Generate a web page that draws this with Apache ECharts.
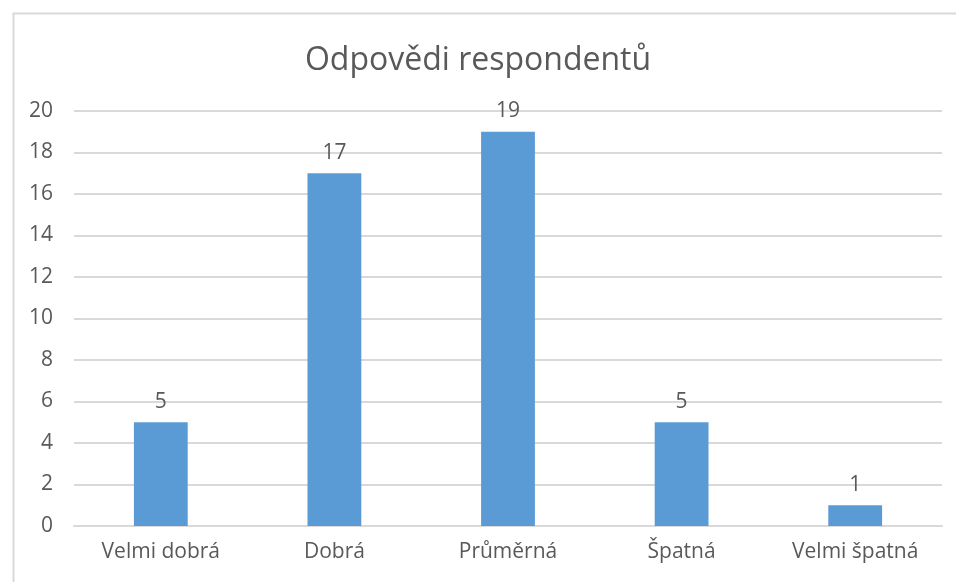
<!DOCTYPE html>
<html>
<head>
<meta charset="utf-8">
<script src="https://cdn.jsdelivr.net/npm/echarts@6/dist/echarts.min.js"></script>
<style>
  html, body { margin: 0; padding: 0; background: #fff; }
  #container { width: 956px; height: 582px; }
</style>
</head>
<body>
<div id="container"></div>
<script>
// data
var categories = ['Velmi dobrá', 'Dobrá', 'Průměrná', 'Špatná', 'Velmi špatná'];
var answers = [5, 17, 19, 5, 1];
var yTicks = { min: 0, max: 20, interval: 2 };

var textColor = '#595959';
var lineColor = '#d9d9d9';
var fontName = 'Open Sans';

var myChart = echarts.init(document.getElementById('container'));

var option = {
    backgroundColor: '#fff',
    animation: false,
    // outer chart border (only top/left visible in the crop)
    graphic: [{
        type: 'rect',
        left: 11,
        top: 11,
        shape: { width: 1000, height: 1000 },
        style: { fill: 'none', stroke: lineColor, lineWidth: 2 },
        silent: true
    }],
    title: {
        text: 'Odpovědi respondentů',
        left: 'center',
        top: 40,
        textStyle: {
            color: textColor,
            fontFamily: fontName,
            fontSize: 32,
            fontWeight: 'normal'
        }
    },
    grid: {
        left: 74,
        right: 14,
        top: 111,
        bottom: 56,
        containLabel: false
    },
    xAxis: {
        type: 'category',
        data: categories,
        axisLine: { lineStyle: { color: lineColor, width: 2 } },
        axisTick: { show: false },
        axisLabel: {
            color: textColor,
            fontFamily: fontName,
            fontSize: 21,
            margin: 16
        }
    },
    yAxis: {
        type: 'value',
        min: yTicks.min,
        max: yTicks.max,
        interval: yTicks.interval,
        axisLine: { show: false },
        axisTick: { show: false },
        splitLine: { lineStyle: { color: lineColor, width: 2 } },
        axisLabel: {
            color: textColor,
            fontFamily: fontName,
            fontSize: 21,
            margin: 21
        }
    },
    series: [{
        name: 'Odpovědi',
        type: 'bar',
        data: answers,
        barWidth: '31%',
        itemStyle: { color: '#5b9bd5' },
        label: {
            show: true,
            position: 'top',
            distance: 10,
            color: textColor,
            fontFamily: fontName,
            fontSize: 21
        }
    }]
};

if (option && typeof option === 'object') {
    myChart.setOption(option, true);
}
</script>
</body>
</html>
